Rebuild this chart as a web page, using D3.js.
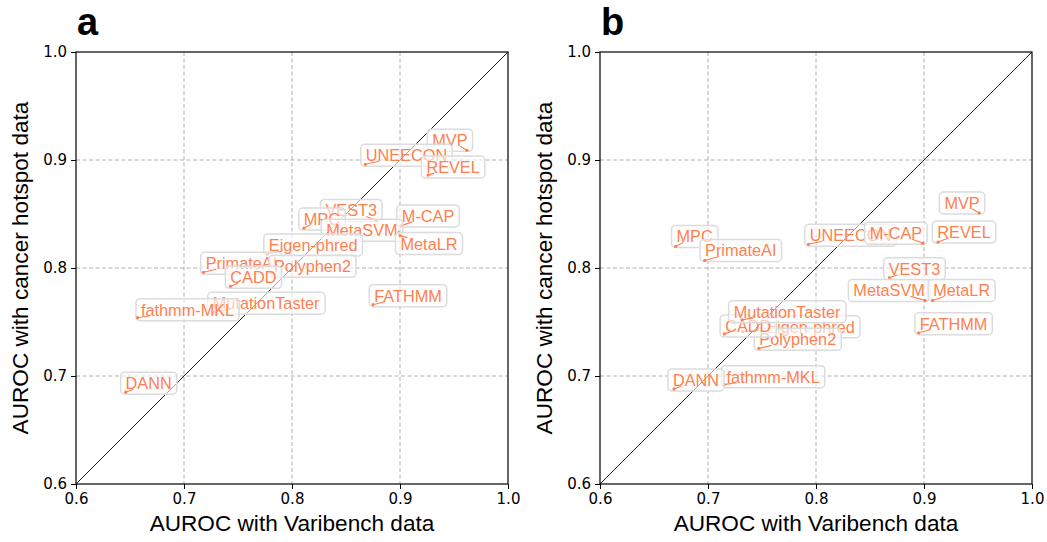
<!DOCTYPE html>
<html>
<head>
<meta charset="utf-8">
<script src="https://cdn.jsdelivr.net/npm/d3@7"></script>
<style>
  body { margin: 0; background: #fff; }
  svg { display: block; }
</style>
</head>
<body>
<svg id="chart" width="1047" height="542"></svg>
<script>
// ---------- data ----------
const tools = ["MVP","UNEECON","REVEL","VEST3","MPC","M-CAP","MetaSVM","MetaLR",
               "Eigen-phred","PrimateAI","Polyphen2","CADD","FATHMM","MutationTaster","fathmm-MKL","DANN"];

// panel a
const aVaribench = [0.962,0.868,0.926,0.878,0.811,0.901,0.899,0.900,0.777,0.718,0.781,0.743,0.875,0.727,0.657,0.646];
const aHotspot   = [0.909,0.896,0.886,0.844,0.837,0.839,0.833,0.830,0.813,0.796,0.796,0.783,0.766,0.759,0.754,0.685];

// panel b
const bVaribench = [0.951,0.793,0.913,0.868,0.670,0.899,0.901,0.908,0.732,0.697,0.747,0.715,0.895,0.7315,0.715,0.6685];
const bHotspot   = [0.851,0.822,0.824,0.791,0.820,0.823,0.770,0.770,0.741,0.807,0.7256,0.739,0.740,0.752,0.692,0.688];

const tickValues = [0.6,0.7,0.8,0.9,1.0];
const gridValues = [0.7,0.8,0.9];
const panelLetters = ["a","b"];
const xTitle = "AUROC with Varibench data";
const yTitle = "AUROC with cancer hotspot data";

// ---------- layout (label offsets in px, relative to point) ----------
const aDx = [-17,41,25,-25,18,27,-37,29,46,38,41,23,35,53,50,23];
const aDy = [-10,-9,-8,-10,-9,-10,-2,8,-9,-9,-6,-9,-9,-9,-8,-9];
const bDx = [-17,42,26,25,19,-27,-36,29,68,36,39,24,35,45,49,22];
const bDy = [-10,-9,-10,-9,-10,-10,-10,-10,-5,-10,-9,-8,-9,-8,-8,-9];

const panels = [
  {left: 76,  xs: aVaribench, ys: aHotspot, dx: aDx, dy: aDy, letter: panelLetters[0]},
  {left: 600, xs: bVaribench, ys: bHotspot, dx: bDx, dy: bDy, letter: panelLetters[1]}
];
const plotTop = 52, plotSize = 432;
const coral = "#FF7F50";

const svg = d3.select("#chart");

panels.forEach(p => {
  const x = d3.scaleLinear().domain([0.6,1.0]).range([p.left, p.left + plotSize]);
  const y = d3.scaleLinear().domain([0.6,1.0]).range([plotTop + plotSize, plotTop]);
  const g = svg.append("g");

  // grid
  g.selectAll(".gx").data(gridValues).enter().append("line")
    .attr("x1", d => x(d)).attr("x2", d => x(d))
    .attr("y1", plotTop).attr("y2", plotTop + plotSize)
    .attr("stroke", "#b0b0b0").attr("stroke-width", 1).attr("stroke-dasharray", "4,2.5");
  g.selectAll(".gy").data(gridValues).enter().append("line")
    .attr("y1", d => y(d)).attr("y2", d => y(d))
    .attr("x1", p.left).attr("x2", p.left + plotSize)
    .attr("stroke", "#b0b0b0").attr("stroke-width", 1).attr("stroke-dasharray", "4,2.5");

  // diagonal
  g.append("line")
    .attr("x1", x(0.6)).attr("y1", y(0.6)).attr("x2", x(1.0)).attr("y2", y(1.0))
    .attr("stroke", "#000").attr("stroke-width", 0.9);

  // axes
  const xAxis = d3.axisBottom(x).tickValues(tickValues).tickFormat(d3.format(".1f")).tickSize(5).tickPadding(4);
  const yAxis = d3.axisLeft(y).tickValues(tickValues).tickFormat(d3.format(".1f")).tickSize(5).tickPadding(4);
  const gx = g.append("g").attr("transform", `translate(0,${plotTop + plotSize})`).call(xAxis);
  const gy = g.append("g").attr("transform", `translate(${p.left},0)`).call(yAxis);
  [gx, gy].forEach(a => {
    a.select(".domain").remove();
    a.selectAll("text").attr("font-family", "DejaVu Sans").attr("font-size", 15).attr("fill", "#000");
    a.selectAll("line").attr("stroke", "#000");
  });

  // frame
  g.append("rect").attr("x", p.left).attr("y", plotTop).attr("width", plotSize).attr("height", plotSize)
    .attr("fill", "none").attr("stroke", "#000").attr("stroke-width", 1.2);

  // points + labels
  tools.forEach((name, i) => {
    const px = x(p.xs[i]), py = y(p.ys[i]);
    const cx = px + p.dx[i], cy = py + p.dy[i];
    const lg = g.append("g");
    const box = lg.append("rect");
    const t = lg.append("text")
      .attr("x", cx).attr("y", cy)
      .attr("text-anchor", "middle").attr("dominant-baseline", "central")
      .attr("font-family", "Liberation Sans, Arial, sans-serif").attr("font-size", 16.3)
      .attr("fill", coral).text(name);
    const bb = t.node().getBBox();
    box.attr("x", bb.x - 5).attr("y", bb.y - 2).attr("width", bb.width + 10).attr("height", bb.height + 4)
      .attr("rx", 4).attr("fill", "#fff").attr("fill-opacity", 0.6)
      .attr("stroke", "#dcdcdc").attr("stroke-width", 1.5);
    // connector
    const hw = bb.width / 2, hh = bb.height / 2 - 3;
    const vx = px - cx, vy = py - cy;
    let s = Math.min(vx !== 0 ? hw / Math.abs(vx) : Infinity, vy !== 0 ? hh / Math.abs(vy) : Infinity);
    let ex = px, ey = py;
    if (s < 1) { ex = cx + vx * s; ey = cy + vy * s; }
    lg.append("line").attr("x1", px).attr("y1", py).attr("x2", ex).attr("y2", ey)
      .attr("stroke", coral).attr("stroke-width", 1.1);
    lg.append("circle").attr("cx", px).attr("cy", py).attr("r", 1.6).attr("fill", coral);
  });

  // titles
  g.append("text").attr("x", p.left + plotSize / 2).attr("y", 531)
    .attr("text-anchor", "middle").attr("font-family", "Liberation Sans, Arial, sans-serif")
    .attr("font-size", 22.6).attr("fill", "#000").text(xTitle);
  g.append("text").attr("transform", `translate(${p.left - 48},${plotTop + plotSize / 2}) rotate(-90)`)
    .attr("text-anchor", "middle").attr("font-family", "Liberation Sans, Arial, sans-serif")
    .attr("font-size", 22.6).attr("fill", "#000").text(yTitle);
  g.append("text").attr("x", p.left + 1).attr("y", 35)
    .attr("font-family", "Liberation Sans, Arial, sans-serif").attr("font-weight", "bold")
    .attr("font-size", 38).attr("fill", "#000").text(p.letter);
});
</script>
</body>
</html>
